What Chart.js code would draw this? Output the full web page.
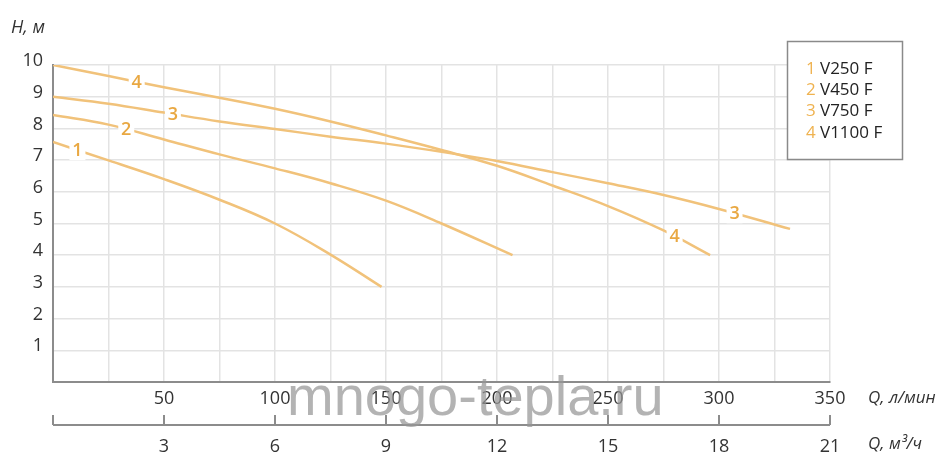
<!DOCTYPE html>
<html>
<head>
<meta charset="utf-8">
<script src="https://cdn.jsdelivr.net/npm/chart.js@4.4.1/dist/chart.umd.min.js"></script>
<style>
  html, body { margin: 0; padding: 0; background: #fff; }
  #wrap { width: 950px; height: 466px; }
</style>
</head>
<body>
<div id="wrap"><canvas id="chart" width="950" height="466"></canvas></div>
<script>
// --- data (Q in l/min, H in m) ---
const seriesNames = ['V250 F', 'V450 F', 'V750 F', 'V1100 F'];
const seriesNumbers = ['1', '2', '3', '4'];

const flow1 = [0, 25, 50, 75, 100, 125, 148];
const head1 = [7.57, 6.99, 6.4, 5.75, 5.0, 4.02, 3.0];

const flow2 = [0, 25, 50, 75, 100, 125, 150, 175, 207];
const head2 = [8.42, 8.12, 7.65, 7.18, 6.74, 6.27, 5.72, 5.0, 4.0];

const flow3 = [0, 25, 50, 75, 100, 125, 150, 175, 200, 225, 250, 275, 300, 332];
const head3 = [9.0, 8.78, 8.5, 8.22, 7.98, 7.74, 7.52, 7.26, 6.97, 6.62, 6.27, 5.9, 5.46, 4.83];

const flow4 = [0, 25, 50, 75, 100, 125, 150, 175, 200, 225, 250, 275, 296];
const head4 = [10.0, 9.65, 9.3, 8.97, 8.62, 8.22, 7.78, 7.32, 6.82, 6.2, 5.55, 4.78, 4.0];

// where the curve numbers sit along each curve (Q, l/min)
const numberAt = [[11], [33], [54, 307], [37.7, 280]];

const flows = [flow1, flow2, flow3, flow4];
const heads = [head1, head2, head3, head4];

const LINE = '#f1c27a';
const NUM = '#e9a842';
const AXIS = '#8c8c8c';
const GRID = '#e3e3e3';
const TEXT = '#333';
const FONT = '"Open Sans", sans-serif';

function headAt(i, q) {
  const f = flows[i], h = heads[i];
  for (let k = 1; k < f.length; k++) {
    if (q <= f[k]) {
      const t = (q - f[k - 1]) / (f[k] - f[k - 1]);
      return h[k - 1] + t * (h[k] - h[k - 1]);
    }
  }
  return h[h.length - 1];
}

const curveNumbers = {
  id: 'curveNumbers',
  afterDatasetsDraw(chart) {
    const { ctx, scales: { x, y } } = chart;
    ctx.save();
    ctx.font = '600 18px ' + FONT;
    ctx.textAlign = 'center';
    ctx.textBaseline = 'middle';
    numberAt.forEach((list, i) => {
      list.forEach(q => {
        const px = x.getPixelForValue(q);
        const py = y.getPixelForValue(headAt(i, q));
        ctx.fillStyle = '#fff';
        ctx.fillRect(px - 8, py - 10, 16, 20);
        ctx.fillStyle = NUM;
        ctx.fillText(seriesNumbers[i], px, py + 1);
      });
    });
    ctx.restore();
  }
};

const extras = {
  id: 'extras',
  afterDraw(chart) {
    const { ctx, scales: { x2 } } = chart;
    ctx.save();

    // second flow axis (m3/h): line with upward ticks
    const ly = x2.top + 13;
    ctx.strokeStyle = AXIS;
    ctx.lineWidth = 2;
    ctx.beginPath();
    ctx.moveTo(x2.getPixelForValue(0), ly);
    ctx.lineTo(x2.getPixelForValue(21), ly);
    x2.ticks.forEach(t => {
      const px = Math.round(x2.getPixelForValue(t.value));
      ctx.moveTo(px, ly);
      ctx.lineTo(px, ly - 10);
    });
    ctx.stroke();

    // axis titles
    ctx.fillStyle = TEXT;
    ctx.font = 'italic 18px ' + FONT;
    ctx.textAlign = 'left';
    ctx.textBaseline = 'middle';
    ctx.fillText('H, м', 11, 28);
    ctx.font = 'italic 17px ' + FONT;
    ctx.fillText('Q, л/мин', 868, 398);
    ctx.fillText('Q, м³/ч', 868, 444);

    // legend box
    ctx.fillStyle = '#fff';
    ctx.fillRect(787, 41, 115, 118);
    ctx.strokeStyle = '#8a8a8a';
    ctx.lineWidth = 1.5;
    ctx.strokeRect(787.5, 41.5, 115, 118);
    ctx.font = '17px ' + FONT;
    seriesNames.forEach((name, i) => {
      const ry = 69 + i * 21.3;
      ctx.fillStyle = '#efb24f';
      ctx.fillText(seriesNumbers[i], 806, ry);
      ctx.fillStyle = '#222';
      ctx.fillText(name, 820, ry);
    });

    // watermark
    ctx.font = '56px "Liberation Sans", sans-serif';
    ctx.fillStyle = 'rgba(150,150,150,0.72)';
    ctx.textBaseline = 'alphabetic';
    ctx.fillText('mnogo-tepla.ru', 287, 415);

    ctx.restore();
  }
};

new Chart(document.getElementById('chart'), {
  type: 'line',
  data: {
    datasets: seriesNames.map((name, i) => ({
      label: name,
      data: flows[i].map((q, k) => ({ x: q, y: heads[i][k] })),
      borderColor: LINE,
      borderWidth: 2.5,
      pointRadius: 0,
      fill: false,
      tension: 0.4
    }))
  },
  options: {
    responsive: false,
    animation: false,
    layout: { padding: { top: 65, right: 120, left: 0, bottom: 0 } },
    plugins: { legend: { display: false }, tooltip: { enabled: false } },
    scales: {
      x: {
        type: 'linear', position: 'bottom', min: 0, max: 350,
        afterFit: s => { s.height = 30; },
        grid: { color: GRID, lineWidth: 1.5, drawTicks: false },
        border: { color: AXIS, width: 2 },
        ticks: {
          stepSize: 25, autoSkip: false, maxRotation: 0, padding: 6,
          color: TEXT, font: { family: FONT, size: 18 },
          callback: v => (v > 0 && v % 50 === 0) ? v : ''
        }
      },
      x2: {
        type: 'linear', position: 'bottom', min: 0, max: 21,
        afterFit: s => { s.height = 54; },
        grid: { display: false, drawTicks: false },
        border: { display: false },
        ticks: {
          stepSize: 3, autoSkip: false, maxRotation: 0, padding: 24,
          color: TEXT, font: { family: FONT, size: 18 },
          callback: v => v > 0 ? v : ''
        }
      },
      y: {
        min: 0, max: 10,
        afterFit: s => { s.width = 53; },
        grid: { color: GRID, lineWidth: 1.5, drawTicks: false },
        border: { color: AXIS, width: 2 },
        ticks: {
          stepSize: 1, padding: 10, labelOffset: -4,
          color: TEXT, font: { family: FONT, size: 18 },
          callback: v => v > 0 ? v : ''
        }
      }
    }
  },
  plugins: [curveNumbers, extras]
});
</script>
</body>
</html>
